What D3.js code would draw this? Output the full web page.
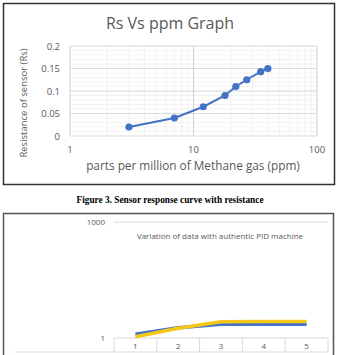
<!DOCTYPE html>
<html>
<head>
<meta charset="utf-8">
<script src="https://cdn.jsdelivr.net/npm/d3@7"></script>
<style>
  body { margin: 0; background: #fff; }
  text { font-family: "Open Sans", "Noto Sans", sans-serif; fill: #595959; }
</style>
</head>
<body>
<svg id="myGraph" width="340" height="355"></svg>
<script>
// top chart data
var ppm = [3, 7, 12, 18, 22, 27, 35, 40];
var rs = [0.02, 0.04, 0.065, 0.09, 0.11, 0.125, 0.143, 0.15];
var xTicks = [1, 10, 100];
var yTicks = [0, 0.05, 0.1, 0.15, 0.2];

// bottom chart data
var trials = ["1", "2", "3", "4", "5"];
var pidValues = [1.25, 1.85, 2.26, 2.26, 2.26];
var sensorValues = [1.08, 1.78, 2.64, 2.66, 2.66];
var logTicks = [1, 1000];

var svg = d3.select("#myGraph");

// ---------- top chart ----------
svg.append("rect")
  .attr("x", 3.5).attr("y", 3.5).attr("width", 331).attr("height", 181)
  .attr("fill", "#fff").attr("stroke", "#333").attr("stroke-width", 1.5);

svg.append("text")
  .attr("x", 170).attr("y", 29)
  .attr("text-anchor", "middle")
  .style("font-size", "16px")
  .text("Rs Vs ppm Graph");

var x = d3.scaleLog().domain([1, 100]).range([70, 317]);
var y = d3.scaleLinear().domain([0, 0.2]).range([136, 46]);

var g = svg.append("g");

// minor grid
var minorX = [];
for (var d = 1; d <= 2; d++) {
  for (var k = 2; k <= 9; k++) minorX.push(k * Math.pow(10, d - 1));
}
g.selectAll(".mx").data(minorX).enter().append("line")
  .attr("x1", function(d){ return x(d); }).attr("x2", function(d){ return x(d); })
  .attr("y1", 46).attr("y2", 136)
  .attr("stroke", "#ececec").attr("stroke-width", 0.8);

var minorY = d3.range(0.01, 0.2, 0.01);
g.selectAll(".my").data(minorY).enter().append("line")
  .attr("x1", 70).attr("x2", 317)
  .attr("y1", function(d){ return y(d); }).attr("y2", function(d){ return y(d); })
  .attr("stroke", "#efefef").attr("stroke-width", 0.8);

// major grid
g.selectAll(".gy").data(yTicks).enter().append("line")
  .attr("x1", 70).attr("x2", 317)
  .attr("y1", function(d){ return y(d); }).attr("y2", function(d){ return y(d); })
  .attr("stroke", "#d9d9d9").attr("stroke-width", 1);

g.selectAll(".gx").data(xTicks).enter().append("line")
  .attr("x1", function(d){ return x(d); }).attr("x2", function(d){ return x(d); })
  .attr("y1", 46).attr("y2", 136)
  .attr("stroke", "#d0d0d0").attr("stroke-width", 1);

// axis labels
g.selectAll(".yl").data(yTicks).enter().append("text")
  .attr("x", 60).attr("y", function(d){ return y(d) + 3.5; })
  .attr("text-anchor", "end")
  .style("font-size", "9.5px")
  .text(function(d){ return d; });

g.selectAll(".xl").data(xTicks).enter().append("text")
  .attr("x", function(d){ return x(d); }).attr("y", 153)
  .attr("text-anchor", "middle")
  .style("font-size", "9.5px")
  .text(function(d){ return d; });

svg.append("text")
  .attr("x", 193).attr("y", 170)
  .attr("text-anchor", "middle")
  .style("font-size", "11.8px")
  .text("parts per million of Methane gas (ppm)");

svg.append("text")
  .attr("transform", "translate(27,103) rotate(-90)")
  .attr("text-anchor", "middle")
  .style("font-size", "9.5px")
  .text("Resistance of sensor (Rs)");

// series
var line = d3.line()
  .x(function(d, i){ return x(ppm[i]); })
  .y(function(d){ return y(d); });

g.append("path").datum(rs)
  .attr("d", line)
  .attr("fill", "none").attr("stroke", "#4472C4").attr("stroke-width", 2);

g.selectAll(".pt").data(rs).enter().append("circle")
  .attr("cx", function(d, i){ return x(ppm[i]); })
  .attr("cy", function(d){ return y(d); })
  .attr("r", 3.6)
  .attr("fill", "#4472C4");

// caption
svg.append("text")
  .attr("x", 170).attr("y", 203)
  .attr("text-anchor", "middle")
  .style("font-family", "'Liberation Serif', serif")
  .style("font-weight", "bold")
  .style("font-size", "9.3px")
  .style("fill", "#000")
  .text("Figure 3. Sensor response curve with resistance");

// ---------- bottom chart ----------
svg.append("path")
  .attr("d", "M3.5,360 V213.5 H333.5 V360")
  .attr("fill", "none").attr("stroke", "#555").attr("stroke-width", 1.5);

var x2 = d3.scaleBand().domain(trials).range([114, 328]);
var y2 = d3.scaleLog().domain([1, 1000]).range([338, 222]);

var g2 = svg.append("g");

g2.append("line")
  .attr("x1", 114).attr("x2", 328)
  .attr("y1", y2(1000)).attr("y2", y2(1000))
  .attr("stroke", "#d9d9d9");

g2.selectAll(".yl2").data(logTicks).enter().append("text")
  .attr("x", 105).attr("y", function(d){ return y2(d) + 3; })
  .attr("text-anchor", "end")
  .style("font-size", "8px")
  .text(function(d){ return d; });

svg.append("text")
  .attr("x", 220).attr("y", 239)
  .attr("text-anchor", "middle")
  .style("font-size", "8px")
  .text("Variation of data with authentic PID machine");

// category table cells
var cellEdges = trials.map(function(t){ return x2(t); }).concat([x2.range()[1]]);
g2.selectAll(".ce").data(cellEdges).enter().append("line")
  .attr("x1", function(d){ return d; }).attr("x2", function(d){ return d; })
  .attr("y1", 338).attr("y2", 352)
  .attr("stroke", "#d9d9d9");
g2.append("line").attr("x1", 114).attr("x2", 328).attr("y1", 338).attr("y2", 338).attr("stroke", "#d9d9d9");
g2.append("line").attr("x1", 15).attr("x2", 328).attr("y1", 352).attr("y2", 352).attr("stroke", "#d9d9d9");

g2.selectAll(".cl").data(trials).enter().append("text")
  .attr("x", function(d){ return x2(d) + x2.bandwidth() / 2; })
  .attr("y", 349)
  .attr("text-anchor", "middle")
  .style("font-size", "8px")
  .text(function(d){ return d; });

var line2 = d3.line()
  .x(function(d, i){ return x2(trials[i]) + x2.bandwidth() / 2; })
  .y(function(d){ return y2(d); });

g2.append("path").datum(pidValues)
  .attr("d", line2)
  .attr("fill", "none").attr("stroke", "#4472C4").attr("stroke-width", 3.5);

g2.append("path").datum(sensorValues)
  .attr("d", line2)
  .attr("fill", "none").attr("stroke", "#F5C518").attr("stroke-width", 3.5);
</script>
</body>
</html>
